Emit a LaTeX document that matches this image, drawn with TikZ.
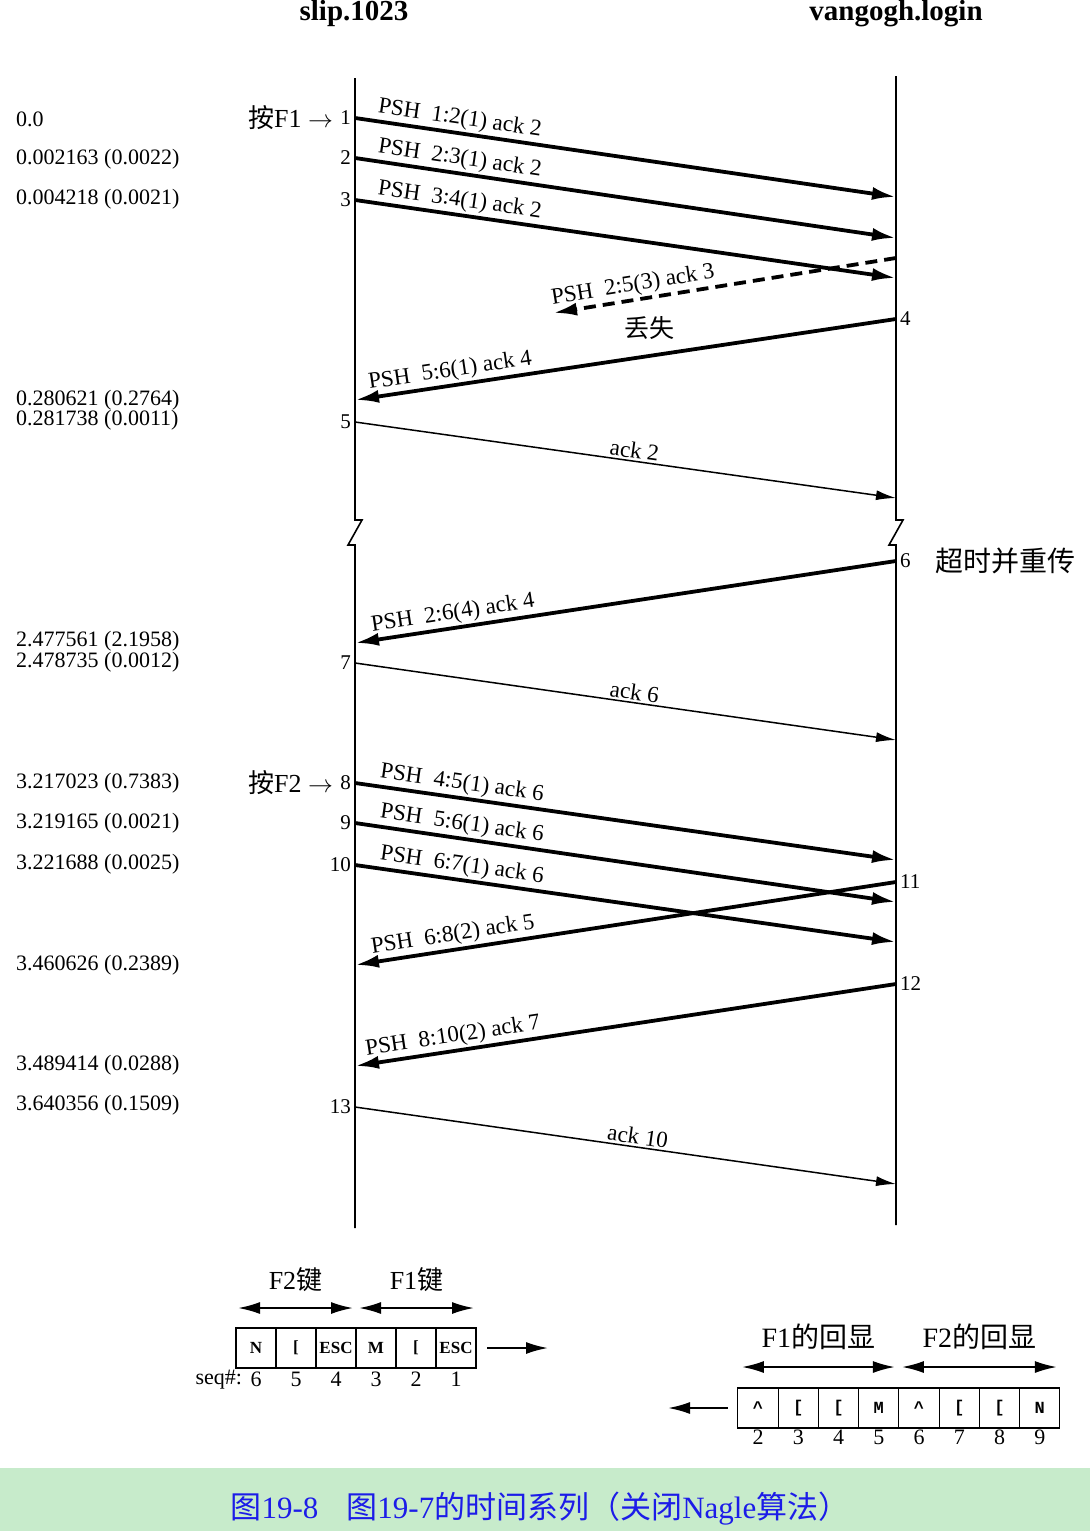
\documentclass[tikz,border=0pt]{standalone}
\usepackage{fontspec}
\setmainfont{Liberation Serif}
\newfontfamily\cjk{Noto Sans CJK SC}
\newfontfamily\boxfont{Liberation Mono}
\usetikzlibrary{arrows.meta, positioning}
\definecolor{capgreen}{HTML}{C7EBCB}
\definecolor{capblue}{HTML}{1C1CE8}

\begin{document}
\begin{tikzpicture}[
    x=1pt, y=-1pt,
    % Stili dei nodi
    host/.style={inner sep=0pt, font=\fontsize{29}{29}\selectfont\bfseries},
    time/.style={anchor=west, inner sep=0pt, font=\fontsize{22}{22}\selectfont},
    numL/.style={anchor=east, inner sep=4pt, font=\fontsize{21}{21}\selectfont},
    numR/.style={anchor=west, inner sep=4pt, font=\fontsize{21}{21}\selectfont},
    note/.style={inner sep=0pt, font=\fontsize{26}{26}\selectfont},
    msglbl/.style={sloped, above, inner sep=2pt, font=\fontsize{23}{23}\selectfont},
    cell/.style={draw, line width=1.2pt, outer sep=0pt, minimum width=40pt, minimum height=40pt, inner sep=0pt, font=\fontsize{17}{17}\selectfont\bfseries},
    seqnum/.style={inner sep=1pt, font=\fontsize{22}{22}\selectfont},
    % Stili delle linee
    lifeline/.style={line width=1.6pt},
    seg/.style={line width=3.8pt, -{Latex[length=24pt, width=13pt]}},
    lostseg/.style={seg, dash pattern=on 12pt off 7pt},
    ackseg/.style={line width=1.5pt, -{Latex[length=20pt, width=10pt]}},
    span/.style={line width=2pt, {Latex[length=22pt, width=12pt]}-{Latex[length=22pt, width=12pt]}},
    flow/.style={line width=2pt, -{Latex[length=22pt, width=12pt]}}
]
    \useasboundingbox (0,0) rectangle (1090,1531);

    % ==================== HOST E LINEE DI VITA ====================
    \node [host] (slip) at (354,14) {slip.1023};
    \node [host] (vg) at (896,14) {vangogh.login};

    \coordinate (slipTop) at (355,78);
    \coordinate (slipBot) at (355,1228);
    \coordinate (vgTop) at (896,76);
    \coordinate (vgBot) at (896,1225);

    % linea spezzata (salto temporale)
    \draw [lifeline] (slipTop) -- (355,520) -- ++(7,0) -- ++(-14,25) -- ++(7,0) -- (slipBot);
    \draw [lifeline] (vgTop) -- (896,520) -- ++(7,0) -- ++(-14,25) -- ++(7,0) -- (vgBot);

    % ==================== ESTREMI DEI SEGMENTI ====================
    \coordinate (s1) at (355,118);   \coordinate (v1) at (896,197);
    \coordinate (s2) at (355,158);   \coordinate (v2) at (896,238);
    \coordinate (s3) at (355,200);   \coordinate (v3) at (896,278);
    \coordinate (vLost) at (896,258); \coordinate (lostEnd) at (553,313);
    \coordinate (v4) at (896,319);   \coordinate (s4) at (355,400);
    \coordinate (s5) at (355,422);   \coordinate (v5) at (896,498);
    \coordinate (v6) at (896,561);   \coordinate (s6) at (355,643);
    \coordinate (s7) at (355,663);   \coordinate (v7) at (896,740);
    \coordinate (s8) at (355,783);   \coordinate (v8) at (896,860);
    \coordinate (s9) at (355,823);   \coordinate (v9) at (896,902);
    \coordinate (s10) at (355,865);  \coordinate (v10) at (896,942);
    \coordinate (v11) at (896,882);  \coordinate (s11) at (355,965);
    \coordinate (v12) at (896,984);  \coordinate (s12) at (355,1066);
    \coordinate (s13) at (355,1107); \coordinate (v13) at (896,1184);

    % ==================== NUMERI DEI SEGMENTI ====================
    \node [numL] (n1) at (s1) {1};
    \node [numL] (n2) at (s2) {2};
    \node [numL] (n3) at (s3) {3};
    \node [numR] (n4) at (v4) {4};
    \node [numL] (n5) at (s5) {5};
    \node [numR] (n6) at (v6) {6};
    \node [numL] (n7) at (s7) {7};
    \node [numL] (n8) at (s8) {8};
    \node [numL] (n9) at (s9) {9};
    \node [numL] (n10) at (s10) {10};
    \node [numR] (n11) at (v11) {11};
    \node [numR] (n12) at (v12) {12};
    \node [numL] (n13) at (s13) {13};

    \node [note, left=3pt of n1] (keyF1) {{\cjk 按}F1 $\rightarrow$};
    \node [note, left=3pt of n8] (keyF2) {{\cjk 按}F2 $\rightarrow$};
    \node [note, right=20pt of n6, font=\cjk\fontsize{28}{28}\selectfont] (retx) {超时并重传};

    % ==================== TEMPI ====================
    \node [time] (t1) at (16,119) {0.0};
    \node [time] (t2) at (16,159) {0.002163 (0.0022)};
    \node [time] (t3) at (16,199) {0.004218 (0.0021)};
    \node [time] (t4) at (16,400) {0.280621 (0.2764)};
    \node [time] (t5) at (16,420) {0.281738 (0.0011)};
    \node [time] (t6) at (16,641) {2.477561 (2.1958)};
    \node [time] (t7) at (16,662) {2.478735 (0.0012)};
    \node [time] (t8) at (16,783) {3.217023 (0.7383)};
    \node [time] (t9) at (16,823) {3.219165 (0.0021)};
    \node [time] (t10) at (16,864) {3.221688 (0.0025)};
    \node [time] (t11) at (16,965) {3.460626 (0.2389)};
    \node [time] (t12) at (16,1065) {3.489414 (0.0288)};
    \node [time] (t13) at (16,1105) {3.640356 (0.1509)};

    % ==================== SEGMENTI ====================
    \draw [seg] (s1) -- node[msglbl, pos=0.19] {PSH\ \ 1:2(1) ack 2} (v1);
    \draw [seg] (s2) -- node[msglbl, pos=0.19] {PSH\ \ 2:3(1) ack 2} (v2);
    \draw [seg] (s3) -- node[msglbl, pos=0.19] {PSH\ \ 3:4(1) ack 2} (v3);

    % segmento perso
    \draw [lostseg] (vLost) -- node[msglbl, pos=0.76] {PSH\ \ 2:5(3) ack 3}
        node[pos=0.72, below=17pt, inner sep=0pt, font=\cjk\fontsize{25}{25}\selectfont] (lost) {丢失} (lostEnd);

    \draw [seg] (v4) -- node[msglbl, pos=0.82] {PSH\ \ 5:6(1) ack 4} (s4);
    \draw [ackseg] (s5) -- node[msglbl, pos=0.514] {ack 2} (v5);

    \draw [seg] (v6) -- node[msglbl, pos=0.815] {PSH\ \ 2:6(4) ack 4} (s6);
    \draw [ackseg] (s7) -- node[msglbl, pos=0.514] {ack 6} (v7);

    \draw [seg] (s8) -- node[msglbl, pos=0.194] {PSH\ \ 4:5(1) ack 6} (v8);
    \draw [seg] (s9) -- node[msglbl, pos=0.194] {PSH\ \ 5:6(1) ack 6} (v9);
    \draw [seg] (s10) -- node[msglbl, pos=0.194] {PSH\ \ 6:7(1) ack 6} (v10);
    \draw [seg] (v11) -- node[msglbl, pos=0.815] {PSH\ \ 6:8(2) ack 5} (s11);
    \draw [seg] (v12) -- node[msglbl, pos=0.815] {PSH\ \ 8:10(2) ack 7} (s12);
    \draw [ackseg] (s13) -- node[msglbl, pos=0.52] {ack 10} (v13);

    % ==================== BUFFER DI INGRESSO ====================
    \node [cell] (kb1) at (256,1348) {N};
    \node [cell, right=0pt of kb1, label={[seqnum, label distance=3pt]below:5}] (kb2) {[};
    \node [cell, right=0pt of kb2, label={[seqnum, label distance=3pt]below:4}] (kb3) {ESC};
    \node [cell, right=0pt of kb3, label={[seqnum, label distance=3pt]below:3}] (kb4) {M};
    \node [cell, right=0pt of kb4, label={[seqnum, label distance=3pt]below:2}] (kb5) {[};
    \node [cell, right=0pt of kb5, label={[seqnum, label distance=3pt]below:1}] (kb6) {ESC};
    \node [seqnum, below=3pt of kb1] (sq6) {6};
    \node [seqnum, left=6pt of sq6] (seqhdr) {seq\#:};

    \draw [span] ([xshift=2pt, yshift=20pt]kb1.north west) -- node[note, above=15pt] (f2key) {F2{\cjk 键}} ([xshift=-3pt, yshift=20pt]kb3.north east);
    \draw [span] ([xshift=3pt, yshift=20pt]kb4.north west) -- node[note, above=15pt] (f1key) {F1{\cjk 键}} ([xshift=-2pt, yshift=20pt]kb6.north east);

    \coordinate (outR) at (548,1348);
    \draw [flow] ([xshift=11pt]kb6.east) -- (outR);

    % ==================== ECO IN USCITA ====================
    \node [cell, minimum width=40.25pt, font=\boxfont\fontsize{17}{17}\selectfont\bfseries, label={[seqnum, label distance=1pt]below:2}] (rb1) at (758,1408) {\textasciicircum};
    \node [cell, minimum width=40.25pt, font=\boxfont\fontsize{17}{17}\selectfont\bfseries, right=0pt of rb1, label={[seqnum, label distance=1pt]below:3}] (rb2) {[};
    \node [cell, minimum width=40.25pt, font=\boxfont\fontsize{17}{17}\selectfont\bfseries, right=0pt of rb2, label={[seqnum, label distance=1pt]below:4}] (rb3) {[};
    \node [cell, minimum width=40.25pt, font=\boxfont\fontsize{17}{17}\selectfont\bfseries, right=0pt of rb3, label={[seqnum, label distance=1pt]below:5}] (rb4) {M};
    \node [cell, minimum width=40.25pt, font=\boxfont\fontsize{17}{17}\selectfont\bfseries, right=0pt of rb4, label={[seqnum, label distance=1pt]below:6}] (rb5) {\textasciicircum};
    \node [cell, minimum width=40.25pt, font=\boxfont\fontsize{17}{17}\selectfont\bfseries, right=0pt of rb5, label={[seqnum, label distance=1pt]below:7}] (rb6) {[};
    \node [cell, minimum width=40.25pt, font=\boxfont\fontsize{17}{17}\selectfont\bfseries, right=0pt of rb6, label={[seqnum, label distance=1pt]below:8}] (rb7) {[};
    \node [cell, minimum width=40.25pt, font=\boxfont\fontsize{17}{17}\selectfont\bfseries, right=0pt of rb7, label={[seqnum, label distance=1pt]below:9}] (rb8) {N};

    \draw [span] ([xshift=4pt, yshift=21pt]rb1.north west) -- node[note, above=16pt, font=\fontsize{28}{28}\selectfont] (f1echo) {F1{\cjk 的回显}} ([xshift=-4pt, yshift=21pt]rb4.north east);
    \draw [span] ([xshift=3pt, yshift=21pt]rb5.north west) -- node[note, above=16pt, font=\fontsize{28}{28}\selectfont] (f2echo) {F2{\cjk 的回显}} ([xshift=-3pt, yshift=21pt]rb8.north east);

    \coordinate (inL) at (668,1408);
    \draw [flow] ([xshift=-10pt]rb1.west) -- (inL);

    % ==================== DIDASCALIA ====================
    \fill [capgreen] (0,1468) rectangle (1090,1531);
    \node [text=capblue, inner sep=0pt, font=\fontsize{31}{31}\selectfont] (caption) at (540,1509)
        {{\cjk 图}19-8\hspace{28pt}{\cjk 图}19-7{\cjk 的时间系列（关闭}Nagle{\cjk 算法）}};

\end{tikzpicture}
\end{document}
